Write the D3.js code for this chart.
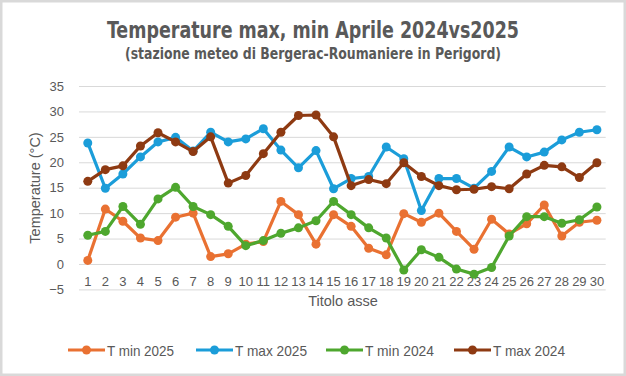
<!DOCTYPE html>
<html><head><meta charset="utf-8">
<script src="https://cdn.jsdelivr.net/npm/d3@7"></script>
<style>body{margin:0;background:#fff}svg{display:block}</style>
</head><body>
<svg id="c" width="626" height="376"></svg>
<script>
const days = d3.range(1, 31).map(String);
const yTicks = [-5, 0, 5, 10, 15, 20, 25, 30, 35];
const seriesNames = ["T min 2025", "T max 2025", "T min 2024", "T max 2024"];
const seriesColors = ["#E97132", "#1B9DD9", "#4EA72E", "#8E3A12"];
const tmin2025 = [0.7,10.8,8.4,5.1,4.6,9.2,10.0,1.45,2.0,3.9,4.4,12.3,9.7,3.9,9.7,7.4,3.1,1.8,9.9,8.2,10.0,6.4,2.9,8.8,5.9,7.9,11.6,5.5,8.2,8.6];
const tmax2025 = [23.8,14.9,17.7,21.05,24.0,24.9,22.2,25.9,24.0,24.6,26.6,22.4,18.9,22.3,14.8,16.8,17.2,23.0,20.7,10.5,16.8,16.8,14.9,18.2,23.0,21.05,22.0,24.4,25.9,26.4];
const tmin2024 = [5.66,6.4,11.3,7.8,12.8,15.07,11.3,9.7,7.4,3.6,4.6,6.05,7.1,8.5,12.3,9.7,7.1,5.1,-1.2,2.8,1.3,-1.0,-2.0,-0.7,5.5,9.3,9.3,8.0,8.7,11.2];
const tmax2024 = [16.25,18.55,19.3,23.2,25.8,24.0,22.1,25.0,15.9,17.4,21.7,25.9,29.2,29.3,25.0,15.4,16.6,15.8,19.9,17.2,15.4,14.6,14.7,15.2,14.8,17.7,19.4,19.1,17.0,19.9];
const seriesValues = [tmin2025, tmax2025, tmin2024, tmax2024];

const svg = d3.select("#c");
const grey = "#595959";
const narrow = "'Liberation Sans Narrow','DejaVu Sans Condensed',sans-serif";
const sans = "'Liberation Sans',Arial,sans-serif";

svg.append("rect").attr("x",1.25).attr("y",1.25).attr("width",623.5).attr("height",373.5)
  .attr("fill","#fff").attr("stroke","#d9d9d9").attr("stroke-width",2.5);

svg.append("text").attr("x",313).attr("y",38).attr("text-anchor","middle")
  .attr("font-family",narrow).attr("font-weight","bold").attr("font-size",23).attr("fill",grey)
  .attr("textLength",412).attr("lengthAdjust","spacingAndGlyphs")
  .text("Temperature max, min Aprile 2024vs2025");
svg.append("text").attr("x",313).attr("y",59).attr("text-anchor","middle")
  .attr("font-family",narrow).attr("font-weight","bold").attr("font-size",16).attr("fill",grey)
  .attr("textLength",376).attr("lengthAdjust","spacingAndGlyphs")
  .text("(stazione meteo di Bergerac-Roumaniere in Perigord)");

const x = d3.scaleBand().domain(days).range([79, 605.7]);
const y = d3.scaleLinear().domain([-5, 35]).range([289.4, 86]);

const yAxis = d3.axisLeft(y).tickValues(yTicks).tickSize(-(605.7-79)).tickPadding(15);
const gy = svg.append("g").attr("transform","translate(79,0)").call(yAxis);
gy.select(".domain").remove();
gy.selectAll(".tick line").attr("stroke","#d9d9d9").attr("stroke-width",1);
gy.selectAll(".tick text").attr("font-family",sans).attr("font-size",13).attr("fill",grey);

const xAxis = d3.axisBottom(x).tickSize(0).tickPadding(0);
const gx = svg.append("g").attr("transform","translate(0,"+(y(-5)-12.5)+")").call(xAxis);
gx.select(".domain").remove();
gx.selectAll(".tick text").attr("font-family",sans).attr("font-size",13).attr("fill",grey);

svg.append("text").attr("x",343).attr("y",306).attr("text-anchor","middle")
  .attr("font-family",sans).attr("font-size",14.5).attr("fill",grey).text("Titolo asse");
svg.append("text").attr("transform","translate(40,188) rotate(-90)").attr("text-anchor","middle")
  .attr("font-family",sans).attr("font-size",14.5).attr("fill",grey).text("Temperature (°C)");

const cx = d => x(d) + x.bandwidth()/2;
const line = d3.line().x((v,i)=>cx(days[i])).y(v=>y(v));
seriesValues.forEach((vals, k) => {
  const g = svg.append("g");
  g.append("path").attr("d", line(vals)).attr("fill","none")
    .attr("stroke", seriesColors[k]).attr("stroke-width",3.2).attr("stroke-linejoin","round");
  g.selectAll("circle").data(vals).join("circle")
    .attr("cx",(v,i)=>cx(days[i])).attr("cy",v=>y(v)).attr("r",4.5).attr("fill",seriesColors[k]);
});

const legX = [68, 196, 326, 454];
const legW = [67, 72, 69, 72];
const lg = svg.append("g");
seriesNames.forEach((n,k) => {
  const g = lg.append("g").attr("transform","translate("+legX[k]+",350)");
  g.append("line").attr("x1",0).attr("x2",37).attr("y1",0).attr("y2",0)
    .attr("stroke",seriesColors[k]).attr("stroke-width",3.2);
  g.append("circle").attr("cx",18.5).attr("cy",0).attr("r",4.5).attr("fill",seriesColors[k]);
  g.append("text").attr("x",39).attr("y",5.5).attr("font-family",sans).attr("font-size",15)
    .attr("textLength",legW[k]).attr("lengthAdjust","spacingAndGlyphs")
    .attr("fill",grey).text(n);
});
</script>
</body></html>
